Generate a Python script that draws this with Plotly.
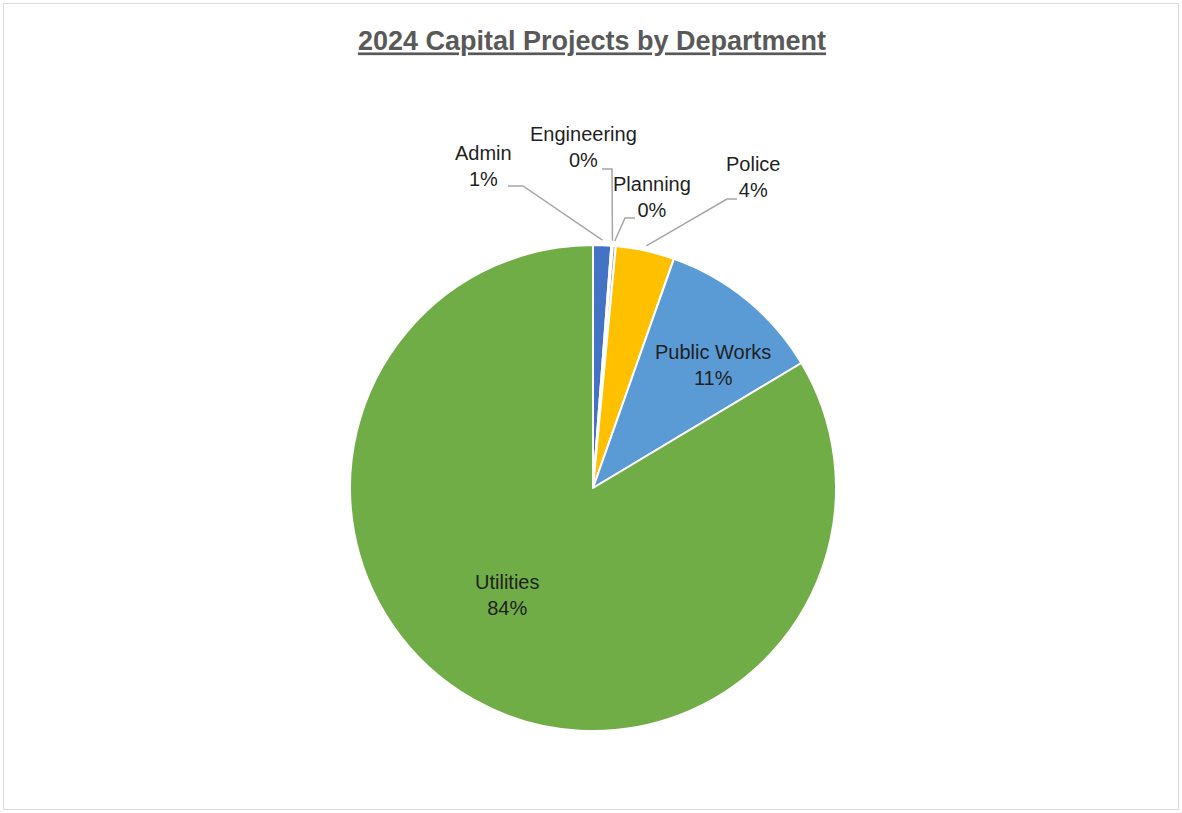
import math
import plotly.graph_objects as go

# 2024 capital projects share by department (percent of total budget)
departments = ["Admin", "Engineering", "Planning", "Police", "Public Works", "Utilities"]
shares = [1.2, 0.1, 0.2, 3.9, 11.0, 83.6]
colors = ["#4472C4", "#ED7D31", "#A5A5A5", "#FFC000", "#5B9BD5", "#70AD47"]

W, H = 1182, 813
CX, CY, R = 593, 488, 243  # pie centre and radius in pixels


def px(x):
    return x / W


def py(y):
    return 1 - y / H


total = sum(shares)
pct_text = [f"{round(v / total * 100):.0f}%" for v in shares]

# mid angle (degrees clockwise from 12 o'clock) for each slice
mid_angles = []
acc = 0.0
for v in shares:
    a0 = acc / total * 360
    acc += v
    a1 = acc / total * 360
    mid_angles.append((a0 + a1) / 2)

fig = go.Figure(
    go.Pie(
        labels=departments,
        values=shares,
        sort=False,
        direction="clockwise",
        rotation=0,
        marker=dict(colors=colors, line=dict(color="white", width=2)),
        textinfo="none",
        hoverinfo="label+percent",
        domain=dict(x=[px(CX - R), px(CX + R)], y=[py(CY + R), py(CY - R)]),
        showlegend=False,
    )
)

# label placement (pixel centres) and leader-line elbows for the thin slices
label_pos = {
    "Admin": (483, 166),
    "Engineering": (583, 147),
    "Planning": (652, 197),
    "Police": (753, 177),
    "Public Works": (713, 365),
    "Utilities": (507, 595),
}
leaders = {
    "Admin": [(508, 186), (523, 186)],
    "Engineering": [(602, 169), (612, 169)],
    "Planning": [(635, 218), (625, 218)],
    "Police": [(737, 199), (727, 199)],
}

label_font = dict(family="Liberation Sans, Arial, sans-serif", size=20, color="#1f1f1f")

annotations = []
for name, pct in zip(departments, pct_text):
    x, y = label_pos[name]
    annotations.append(
        dict(
            x=px(x), y=py(y), xref="paper", yref="paper",
            text=f"{name}<br>{pct}", showarrow=False,
            font=label_font, align="center",
            xanchor="center", yanchor="middle",
        )
    )

shapes = []
for name, elbow in leaders.items():
    ang = math.radians(mid_angles[departments.index(name)])
    ex = CX + (R + 5) * math.sin(ang)
    ey = CY - (R + 5) * math.cos(ang)
    pts = elbow + [(ex, ey)]
    path = "M " + " L ".join(f"{px(a):.5f},{py(b):.5f}" for a, b in pts)
    shapes.append(dict(type="path", path=path, xref="paper", yref="paper",
                       line=dict(color="#A6A6A6", width=1.5)))

# chart-area border
shapes.append(dict(type="rect", xref="paper", yref="paper",
                   x0=px(3.5), x1=px(W - 3.5), y0=py(H - 3.5), y1=py(3.5),
                   line=dict(color="#D9D9D9", width=1)))

fig.update_layout(
    width=W, height=H,
    margin=dict(l=0, r=0, t=0, b=0),
    paper_bgcolor="white",
    plot_bgcolor="white",
    title=dict(
        text="<b>2024 Capital Projects by Department</b>",
        x=px(592), xanchor="center", y=py(41), yanchor="middle",
        font=dict(family="Liberation Sans, Arial, sans-serif", size=27,
                  color="#595959", lineposition="under"),
    ),
    annotations=annotations,
    shapes=shapes,
)

fig.write_html("out.html")
